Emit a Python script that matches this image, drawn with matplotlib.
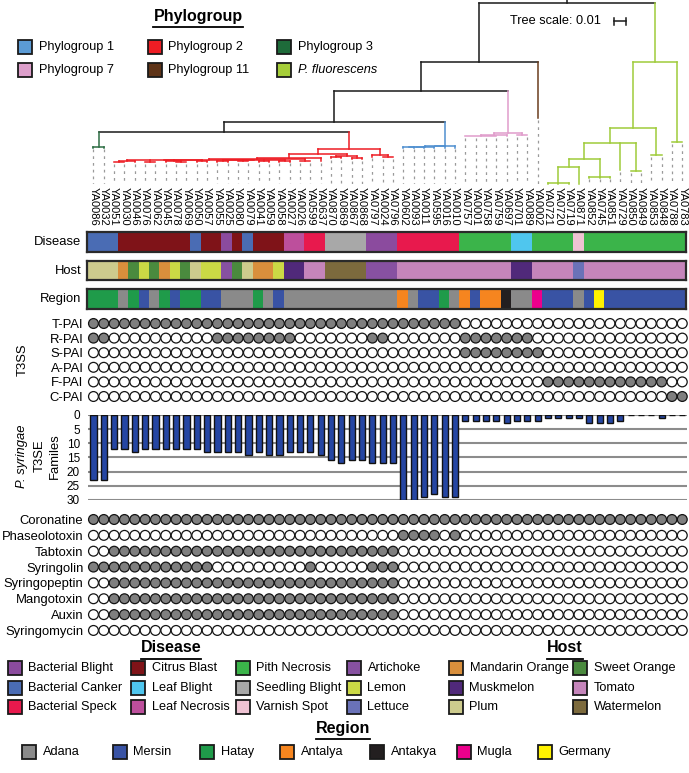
import re
import numpy as np
import matplotlib.pyplot as plt
from matplotlib.patches import Rectangle

plt.rcParams['font.family'] = ['Liberation Sans', 'DejaVu Sans']

# ---------------- data ----------------
strains = ['YA0086', 'YA0032', 'YA0051', 'YA0030', 'YA0046', 'YA0076', 'YA0062', 'YA0045', 'YA0078', 'YA0069',
           'YA0050', 'YA0057', 'YA0055', 'YA0025', 'YA0080', 'YA0079', 'YA0041', 'YA0059', 'YA0058', 'YA0027',
           'YA0026', 'YA0599', 'YA0637', 'YA0870', 'YA0869', 'YA0867', 'YA0868', 'YA0797', 'YA0024', 'YA0796',
           'YA0602', 'YA0093', 'YA0011', 'YA0595', 'YA0016', 'YA0010', 'YA0757', 'YA0001', 'YA0758', 'YA0759',
           'YA0697', 'YA0701', 'YA0089', 'YA0002', 'YA0721', 'YA0720', 'YA0719', 'YA0871', 'YA0852', 'YA0745',
           'YA0851', 'YA0729', 'YA0850', 'YA0849', 'YA0853', 'YA0848', 'YA0788', 'YA0783']

phylogroup = ['3', '3',
              '2', '2', '2', '2', '2', '2', '2', '2', '2', '2', '2', '2', '2', '2',
              '2', '2', '2', '2', '2', '2', '2', '2', '2', '2', '2', '2', '2', '2',
              '1', '1', '1', '1', '1', '1',
              '7', '7', '7', '7', '7', '7', '7',
              '11',
              'Pf', 'Pf', 'Pf', 'Pf', 'Pf', 'Pf', 'Pf', 'Pf', 'Pf', 'Pf', 'Pf', 'Pf', 'Pf', 'Pf']

# phylogeny, branch lengths in units of 0.001
tree_newick = (
    "((((((YA0086:0.3,YA0032:0.3):12.8,"
    "((((((((YA0051:0.3,YA0030:0.3):0.5,YA0046:0.8):0.8,(YA0076:0.5,YA0062:0.5):1.0,"
    "(YA0045:0.8,(YA0078:0.3,YA0069:0.3):0.5):0.6,(YA0050:0.3,YA0057:0.3):0.8):0.5,"
    "((YA0055:0.4,YA0025:0.4):0.6,(YA0080:0.4,YA0079:0.4):0.4,(YA0041:0.4,YA0059:0.4):0.9,"
    "(YA0058:0.4,YA0027:0.4):0.7):0.4):0.6,(YA0026:0.3,YA0599:0.3):1.5):0.8,YA0637:2.3):3.6,"
    "((YA0870:0.5,YA0869:0.5):1.0,(YA0867:0.5,YA0868:0.5):2.0):1.7):4.1,"
    "(YA0797:1.5,(YA0024:0.3,YA0796:0.3):1.5):4.9):14.5):9.0,"
    "(((((YA0602:0.3,YA0093:0.3):0.2,YA0011:0.5):0.2,YA0595:0.7):0.3,YA0016:1.0):0.4,YA0010:1.4):20.7):25.9,"
    "(((YA0757:0.4,YA0001:0.4,YA0758:0.4,YA0759:0.4):1.2,YA0697:1.6):1.4,(YA0701:0.4,YA0089:0.4):1.6):35.5):25.2,"
    "YA0002:48.1):50.4,"
    "((((((YA0721:0.3,YA0720:0.3,YA0719:0.3):14.0,YA0871:14.3):6.4,(YA0852:0.3,YA0745:0.3,YA0851:0.3):15.4):13.6,"
    "YA0729:22.7,(YA0850:0.3,YA0849:0.3):23.3):13.4,(YA0853:0.3,YA0848:0.3):23.4):56.2,"
    "(YA0788:0.3,YA0783:0.3):68.1):50.4);"
)

disease = ['BC', 'BC', 'BC', 'CB', 'CB', 'CB', 'CB', 'CB', 'CB', 'CB',
           'BC', 'CB', 'CB', 'BB', 'CB', 'BC', 'CB', 'CB', 'CB', 'LN',
           'LN', 'BS', 'BS', 'SB', 'SB', 'SB', 'SB', 'BB', 'BB', 'BB',
           'BS', 'BS', 'BS', 'BS', 'BS', 'BS', 'PN', 'PN', 'PN', 'PN',
           'PN', 'LB', 'LB', 'PN', 'PN', 'PN', 'PN', 'VS', 'PN', 'PN',
           'PN', 'PN', 'PN', 'PN', 'PN', 'PN', 'PN', 'PN']
host = ['PL', 'PL', 'PL', 'MO', 'SO', 'LE', 'SO', 'MO', 'LE', 'SO',
        'PL', 'LE', 'LE', 'AR', 'SO', 'PL', 'MO', 'MO', 'LE', 'MU',
        'MU', 'TO', 'TO', 'WA', 'WA', 'WA', 'WA', 'AR', 'AR', 'AR',
        'TO', 'TO', 'TO', 'TO', 'TO', 'TO', 'TO', 'TO', 'TO', 'TO',
        'TO', 'MU', 'MU', 'TO', 'TO', 'TO', 'TO', 'LT', 'TO', 'TO',
        'TO', 'TO', 'TO', 'TO', 'TO', 'TO', 'TO', 'TO']
region = ['HA', 'HA', 'HA', 'AD', 'HA', 'ME', 'AD', 'HA', 'ME', 'HA',
          'HA', 'ME', 'ME', 'AD', 'AD', 'AD', 'HA', 'AD', 'ME', 'AD',
          'AD', 'AD', 'AD', 'AD', 'AD', 'AD', 'AD', 'AD', 'AD', 'AD',
          'AN', 'AD', 'ME', 'ME', 'HA', 'AD', 'AN', 'ME', 'AN', 'AN',
          'AK', 'AD', 'AD', 'MU', 'ME', 'ME', 'ME', 'AD', 'ME', 'GE',
          'ME', 'ME', 'ME', 'ME', 'ME', 'ME', 'ME', 'ME']

t3ss_names = ['T-PAI', 'R-PAI', 'S-PAI', 'A-PAI', 'F-PAI', 'C-PAI']
t3ss = ['1111111111 1111111111 1111111111 1111110000 0000000000 00000000',
        '1100000000 0011111111 0000000110 0000001111 1110000000 00000000',
        '0000000000 0000000000 0000000000 0000001111 1111000000 00000000',
        '0000000000 0000000000 0000000000 0000000000 0000000000 00000000',
        '0000000000 0000000000 0000000000 0000000000 0000111111 11111100',
        '0000000000 0000000000 0000000000 0000000000 0000000000 00000011']

t3se_families = [23, 23, 12, 12, 13, 12, 12, 12, 12, 12,
                 12, 13, 13, 13, 13, 14, 13, 14, 14, 13,
                 13, 13, 14, 16, 17, 16, 16, 17, 17, 17,
                 30, 30, 29, 28, 29, 29, 2, 2, 2, 2,
                 3, 2, 2, 2, 1, 1, 1, 1, 3, 3,
                 3, 2, 0, 0, 0, 1, 0, 0]

toxin_names = ['Coronatine', 'Phaseolotoxin', 'Tabtoxin', 'Syringolin',
               'Syringopeptin', 'Mangotoxin', 'Auxin', 'Syringomycin']
toxins = ['1111111111 1111111111 1111111111 1111111111 1111111111 11111111',
          '0000000000 0000000000 0000000000 1111010000 0000000000 00000000',
          '0011111111 1111111111 1111111111 0000000000 0000000000 00000000',
          '1111111111 1100000000 0100000111 0000000000 0000000000 00000000',
          '0011111111 1111111111 1111111111 0000000000 0000000000 00000000',
          '0011111111 1111111111 1111111111 0000000000 0000000000 00000000',
          '0011111111 1111111111 1111111111 0000000000 0000000000 00000000',
          '0000000000 0000000000 0000000000 0000000000 0000000000 00000000']

pg_labels = {'1': 'Phylogroup 1', '2': 'Phylogroup 2', '3': 'Phylogroup 3',
             '7': 'Phylogroup 7', '11': 'Phylogroup 11', 'Pf': 'P. fluorescens'}
pg_colors = {'1': '#5b9bd5', '2': '#ee1d24', '3': '#1e6b3a',
             '7': '#dd9fcb', '11': '#5e3317', 'Pf': '#a6ce39'}
pg_tree_colors = {'1': '#4f8fd0', '2': '#ee1d24', '3': '#2d6e44',
                  '7': '#e09ccb', '11': '#6b3d1e', 'Pf': '#9fcb3a'}
disease_names = {'BB': 'Bacterial Blight', 'BC': 'Bacterial Canker', 'BS': 'Bacterial Speck',
                 'CB': 'Citrus Blast', 'LB': 'Leaf Blight', 'LN': 'Leaf Necrosis',
                 'PN': 'Pith Necrosis', 'SB': 'Seedling Blight', 'VS': 'Varnish Spot'}
disease_colors = {'BB': '#8b4b9e', 'BC': '#4a6cb4', 'BS': '#e8194d', 'CB': '#7f1318', 'LB': '#4fc6ee',
                  'LN': '#bd4f9c', 'PN': '#3bb44a', 'SB': '#a8a8a8', 'VS': '#efc3d3'}
host_names = {'AR': 'Artichoke', 'LE': 'Lemon', 'LT': 'Lettuce', 'MO': 'Mandarin Orange',
              'MU': 'Muskmelon', 'PL': 'Plum', 'SO': 'Sweet Orange', 'TO': 'Tomato', 'WA': 'Watermelon'}
host_colors = {'AR': '#8751a1', 'LE': '#cbd945', 'LT': '#6a72b8', 'MO': '#d98f3c', 'MU': '#50297a',
               'PL': '#cdcb8d', 'SO': '#4a8a3e', 'TO': '#c585bb', 'WA': '#7c6a3d'}
region_names = {'AD': 'Adana', 'ME': 'Mersin', 'HA': 'Hatay', 'AN': 'Antalya',
                'AK': 'Antakya', 'MU': 'Mugla', 'GE': 'Germany'}
region_colors = {'AD': '#8a8a8a', 'ME': '#3953a4', 'HA': '#1f9b4a', 'AN': '#f6851f',
                 'AK': '#231f20', 'MU': '#ec008c', 'GE': '#fff200'}

# ---------------- layout ----------------
W, H = 689, 773
FS = 9.4
LFS = 9.2
fig = plt.figure(figsize=(W / 100, H / 100), dpi=100)


def pax(x0, y0, x1, y1):
    # axes from a pixel box, origin top-left
    return fig.add_axes([x0 / W, 1 - y1 / H, (x1 - x0) / W, (y1 - y0) / H])


XL, PITCH = 88.3, 10.33
XR = XL + PITCH * len(strains)
xs = np.arange(len(strains))

ov = fig.add_axes([0, 0, 1, 1], zorder=-1)
ov.set_xlim(0, W)
ov.set_ylim(H, 0)
ov.axis('off')


# ---------------- tree ----------------
def parse_newick(s):
    pos = 0

    def node():
        nonlocal pos
        children = []
        if s[pos] == '(':
            pos += 1
            while True:
                children.append(node())
                ch = s[pos]
                pos += 1
                if ch == ')':
                    break
        m = re.match(r'([^:,();]*)(?::([0-9.]+))?', s[pos:])
        pos += m.end()
        return {'name': m.group(1), 'len': float(m.group(2) or 0), 'children': children}
    return node()


leaf_index = {n: i for i, n in enumerate(strains)}


def layout(nd, depth):
    nd['depth'] = depth + nd['len']
    if nd['children']:
        for c in nd['children']:
            layout(c, nd['depth'])
        nd['x'] = (nd['children'][0]['x'] + nd['children'][-1]['x']) / 2
        nd['leaves'] = [l for c in nd['children'] for l in c['leaves']]
    else:
        nd['x'] = leaf_index[nd['name']]
        nd['leaves'] = [nd['name']]


root = parse_newick(tree_newick)
layout(root, 0.0)

TREE_BOTTOM = 184
tax = pax(XL, 0, XR, TREE_BOTTOM)
y_top, y_bot = -3 / 1.17, (TREE_BOTTOM - 3) / 1.17
tax.set_xlim(-0.5, len(strains) - 0.5)
tax.set_ylim(y_bot, y_top)


def clade_color(nd):
    groups = {phylogroup[leaf_index[l]] for l in nd['leaves']}
    return pg_tree_colors[groups.pop()] if len(groups) == 1 else '#1a1a1a'


def draw(nd, parent_depth):
    col = clade_color(nd)
    tax.plot([nd['x'], nd['x']], [parent_depth, nd['depth']], color=col, lw=1.1,
             solid_capstyle='projecting', clip_on=False)
    if nd['children']:
        tax.plot([nd['children'][0]['x'], nd['children'][-1]['x']], [nd['depth'], nd['depth']],
                 color=col, lw=1.1, solid_capstyle='projecting', clip_on=False)
        for c in nd['children']:
            draw(c, nd['depth'])
    else:
        tax.plot([nd['x'], nd['x']], [nd['depth'] + 1.5, y_bot], color='#9a9a9a', lw=0.9,
                 ls=(0, (2.2, 3.2)))


draw(root, y_top)
tax.set_xticks(xs)
tax.set_xticklabels(strains, rotation=-90, fontsize=8)
tax.tick_params(axis='x', length=0, pad=2)
tax.set_yticks([])
for s in tax.spines.values():
    s.set_visible(False)
tax.patch.set_alpha(0)

# tree scale bar (0.01 = 10 units)
p0 = tax.transData.transform((0, 0))
p1 = tax.transData.transform((0, 10))
scale_px = abs(p1[1] - p0[1])
ov.text(510, 21, 'Tree scale: 0.01', fontsize=9.2, va='center', ha='left')
ov.plot([614, 614 + scale_px], [21, 21], color='#1a1a1a', lw=1.1)
for xe in (614, 614 + scale_px):
    ov.plot([xe, xe], [17.5, 24.5], color='#1a1a1a', lw=1.1)

# ---------------- metadata strips ----------------
strips = [('Disease', disease, disease_colors, 232, 252),
          ('Host', host, host_colors, 260.5, 280.5),
          ('Region', region, region_colors, 289, 308.5)]
for label, codes, cmap, y0, y1 in strips:
    sax = pax(XL - 1, y0, XR - 1, y1)
    rgb = np.array([[plt.matplotlib.colors.to_rgb(cmap[c]) for c in codes]])
    sax.imshow(rgb, aspect='auto', extent=(-0.5, len(codes) - 0.5, 1, 0), interpolation='nearest')
    sax.set_xticks([])
    sax.set_yticks([])
    for s in sax.spines.values():
        s.set_linewidth(1.6)
        s.set_color('#2a2a2a')
    ov.text(81, (y0 + y1) / 2, label, fontsize=FS, ha='right', va='center')


# ---------------- presence / absence dots ----------------
def dot_panel(y_first, pitch, names, rows):
    n = len(names)
    ax = pax(XL, y_first - pitch / 2, XR, y_first + pitch * (n - 0.5))
    for r, row in enumerate(rows):
        filled = np.array([c == '1' for c in row.replace(' ', '')])
        ax.scatter(xs, np.full(len(xs), r), s=50, c=np.where(filled, '#7f7f7f', 'white'),
                   edgecolors='#141414', linewidths=0.9, clip_on=False)
    ax.set_xlim(-0.5, len(strains) - 0.5)
    ax.set_ylim(n - 0.5, -0.5)
    ax.set_yticks(range(n))
    ax.set_yticklabels(names, fontsize=FS)
    ax.tick_params(length=0, pad=3.5)
    ax.set_xticks([])
    for s in ax.spines.values():
        s.set_visible(False)
    ax.patch.set_alpha(0)
    return ax


dot_panel(323.5, 14.6, t3ss_names, t3ss)
ov.text(23, 360, 'T3SS', fontsize=FS, rotation=90, ha='center', va='center')

# ---------------- T3SE bar chart ----------------
bax = pax(XL, 415, XR, 500)
bax.bar(xs, t3se_families, width=0.6, color='#2546a3', edgecolor='#111111', linewidth=1.0, zorder=3)
bax.set_xlim(-0.5, len(strains) - 0.5)
bax.set_ylim(30, 0)
bax.set_yticks(range(0, 31, 5))
bax.tick_params(axis='y', length=0, pad=6, labelsize=8.5)
bax.set_xticks([])
bax.yaxis.grid(True, color='#8c8c8c', lw=1.5)
bax.set_axisbelow(True)
for s in bax.spines.values():
    s.set_visible(False)
bax.patch.set_alpha(0)
ov.text(22, 456, 'P. syringae', fontsize=FS, style='italic', rotation=90, ha='center', va='center')
ov.text(40, 456, 'T3SE', fontsize=FS, rotation=90, ha='center', va='center')
ov.text(55, 456, 'Familes', fontsize=FS, rotation=90, ha='center', va='center')

# ---------------- toxins ----------------
dot_panel(519.5, 15.85, toxin_names, toxins)


# ---------------- legends ----------------
def legend_block(labels, colors, col_x, row_y, italic=()):
    nrow = len(row_y)
    for k, (lab, colr) in enumerate(zip(labels, colors)):
        c, r = divmod(k, nrow)
        x, y = col_x[c], row_y[r]
        ov.add_patch(Rectangle((x, y - 7), 14, 14, facecolor=colr, edgecolor='#1a1a1a', lw=1.3))
        ov.text(x + 20.5, y, lab, fontsize=LFS, va='center', ha='left',
                style='italic' if lab in italic else 'normal')


titles = []


def legend_title(x, y, s):
    titles.append((ov.text(x, y, s, fontsize=11.5, fontweight='bold', ha='center', va='center'), y))


pg_order = ['1', '7', '2', '11', '3', 'Pf']
legend_title(198, 16, 'Phylogroup')
legend_block([pg_labels[k] for k in pg_order], [pg_colors[k] for k in pg_order],
             [18.3, 147.7, 277.3], [47.3, 70], italic=('P. fluorescens',))

legend_title(171, 648, 'Disease')
legend_block(list(disease_names.values()), list(disease_colors.values()),
             [8, 131, 236], [668, 688, 707])

legend_title(565, 648, 'Host')
legend_block(list(host_names.values()), list(host_colors.values()),
             [347, 449, 573], [668, 688, 707])

legend_title(343, 728, 'Region')
legend_block(list(region_names.values()), list(region_colors.values()),
             [22, 113, 200, 280, 370, 457, 538], [752])

fig.canvas.draw()
for t, y in titles:
    bb = t.get_window_extent()
    ov.plot([bb.x0, bb.x1], [y + 10.5, y + 10.5], color='black', lw=1.3)

fig.savefig('out.png', dpi=100)
